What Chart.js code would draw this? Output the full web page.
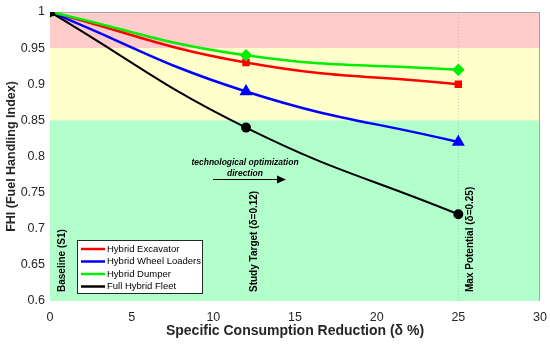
<!DOCTYPE html>
<html>
<head>
<meta charset="utf-8">
<script src="https://cdn.jsdelivr.net/npm/chart.js@4"></script>
<style>
  html, body { margin: 0; padding: 0; background: #fff; }
  #wrap { width: 550px; height: 344px; }
</style>
</head>
<body>
<div id="wrap"><canvas id="fhiChart" width="550" height="344"></canvas></div>
<script>
// Data
const deltaPct = [0, 12, 25];
const excavator = [1.0, 0.93, 0.90];
const wheelLoaders = [1.0, 0.89, 0.82];
const dumper = [1.0, 0.94, 0.92];
const fullFleet = [1.0, 0.84, 0.72];
const xTicks = [0, 5, 10, 15, 20, 25, 30];
const yTicks = [0.6, 0.65, 0.7, 0.75, 0.8, 0.85, 0.9, 0.95, 1];

const FONT = "'Liberation Sans', Arial, sans-serif";

function pts(ys) {
  return deltaPct.map((x, i) => ({ x: x, y: ys[i] }));
}

// background bands, markers lines, annotations, legend
const decor = {
  id: "decor",
  beforeDatasetsDraw(chart) {
    const { ctx, chartArea: a, scales: { x, y } } = chart;
    ctx.save();
    const band = (lo, hi, col) => {
      ctx.fillStyle = col;
      ctx.fillRect(a.left, y.getPixelForValue(hi), a.right - a.left, y.getPixelForValue(lo) - y.getPixelForValue(hi));
    };
    band(0.95, 1.0, "#ffcccc");
    band(0.85, 0.95, "#ffffcc");
    band(0.6, 0.85, "#b3ffcc");

    // dotted reference line at max potential
    ctx.strokeStyle = "rgba(150,150,150,0.5)";
    ctx.lineWidth = 1;
    ctx.setLineDash([1, 2]);
    const x25 = Math.round(x.getPixelForValue(25)) + 0.5;
    ctx.beginPath();
    ctx.moveTo(x25, a.top);
    ctx.lineTo(x25, a.bottom);
    ctx.stroke();
    ctx.setLineDash([]);

    // frame
    ctx.strokeStyle = "#a6a6a6";
    ctx.beginPath();
    ctx.moveTo(a.left, a.top + 0.5);
    ctx.lineTo(a.right - 0.5, a.top + 0.5);
    ctx.lineTo(a.right - 0.5, a.bottom);
    ctx.stroke();

    // vertical labels
    ctx.fillStyle = "#000";
    ctx.font = "bold 10px " + FONT;
    ctx.textAlign = "left";
    ctx.textBaseline = "middle";
    const vText = (xv, dx, txt) => {
      ctx.save();
      ctx.translate(x.getPixelForValue(xv) + dx, a.bottom - 9);
      ctx.rotate(-Math.PI / 2);
      ctx.fillText(txt, 0, 0);
      ctx.restore();
    };
    vText(0, 12, "Baseline (S1)");
    vText(12, 8, "Study Target (\u03b4=0.12)");
    vText(25, 12, "Max Potential (\u03b4=0.25)");

    // direction annotation
    ctx.font = "bold italic 8.5px " + FONT;
    ctx.textAlign = "center";
    ctx.fillText("technological optimization", 245, 163);
    ctx.fillText("direction", 245, 174);
    ctx.strokeStyle = "#000";
    ctx.lineWidth = 1;
    ctx.beginPath();
    ctx.moveTo(213, 179.5);
    ctx.lineTo(278, 179.5);
    ctx.stroke();
    ctx.beginPath();
    ctx.moveTo(286, 179.5);
    ctx.lineTo(277, 175.5);
    ctx.lineTo(277, 183.5);
    ctx.closePath();
    ctx.fill();
    ctx.restore();
  },
  afterDatasetsDraw(chart) {
    const { ctx } = chart;
    ctx.save();
    const lx = 77, ly = 240, lw = 125, lh = 53;
    ctx.fillStyle = "#fff";
    ctx.fillRect(lx, ly, lw, lh);
    ctx.strokeStyle = "#262626";
    ctx.lineWidth = 1;
    ctx.strokeRect(lx + 0.5, ly + 0.5, lw, lh);
    ctx.font = "9.5px " + FONT;
    ctx.textAlign = "left";
    ctx.textBaseline = "middle";
    chart.data.datasets.forEach((ds, i) => {
      const yy = ly + 9 + i * 12.5;
      ctx.strokeStyle = ds.borderColor;
      ctx.lineWidth = 2.5;
      ctx.beginPath();
      ctx.moveTo(lx + 4, yy);
      ctx.lineTo(lx + 28, yy);
      ctx.stroke();
      ctx.fillStyle = "#000";
      ctx.fillText(ds.label, lx + 30, yy);
    });
    ctx.restore();
  }
};

const ctx = document.getElementById("fhiChart").getContext("2d");
new Chart(ctx, {
  type: "line",
  data: {
    datasets: [
      { label: "Hybrid Excavator", data: pts(excavator), borderColor: "#ff0000", backgroundColor: "#ff0000", pointStyle: "rect", pointRadius: 3.5, borderWidth: 2.5, order: 3 },
      { label: "Hybrid Wheel Loaders", data: pts(wheelLoaders), borderColor: "#0000ff", backgroundColor: "#0000ff", pointStyle: "triangle", pointRadius: 5, borderWidth: 2.5, order: 2 },
      { label: "Hybrid Dumper", data: pts(dumper), borderColor: "#00ee00", backgroundColor: "#00ee00", pointStyle: "rectRot", pointRadius: 4.5, borderWidth: 2.5, order: 1 },
      { label: "Full Hybrid Fleet", data: pts(fullFleet), borderColor: "#000000", backgroundColor: "#000000", pointStyle: "circle", pointRadius: 4, borderWidth: 2, order: 0 }
    ]
  },
  options: {
    responsive: false,
    animation: false,
    layout: { padding: { top: 12, right: 10, left: 0, bottom: 0 } },
    elements: { line: { tension: 0.45, fill: false }, point: { borderWidth: 0 } },
    plugins: { legend: { display: false }, tooltip: { enabled: false } },
    scales: {
      x: {
        type: "linear",
        min: 0, max: 30,
        afterBuildTicks: s => { s.ticks = xTicks.map(v => ({ value: v })); },
        afterFit: s => { s.height = 43; s.paddingLeft = 0; s.paddingRight = 0; },
        grid: { display: false, drawTicks: false },
        border: { display: false },
        ticks: { color: "#262626", font: { family: FONT, size: 12.5 }, padding: 9 },
        title: { display: true, text: "Specific Consumption Reduction (\u03b4 %)", color: "#262626", font: { family: FONT, size: 14, weight: "bold" }, padding: { top: 0 } }
      },
      y: {
        min: 0.6, max: 1.0,
        afterBuildTicks: s => { s.ticks = yTicks.map(v => ({ value: v })); },
        afterFit: s => { s.width = 50; s.paddingTop = 0; s.paddingBottom = 0; },
        grid: { display: false, drawTicks: false },
        border: { display: false },
        ticks: { color: "#262626", font: { family: FONT, size: 12.5 }, padding: 5, callback: v => String(+v.toFixed(2)) },
        title: { display: true, text: "FHI (Fuel Handling Index)", color: "#262626", font: { family: FONT, size: 12.5, weight: "bold" }, padding: { top: 4, bottom: 0 } }
      }
    }
  },
  plugins: [decor]
});
</script>
</body>
</html>
